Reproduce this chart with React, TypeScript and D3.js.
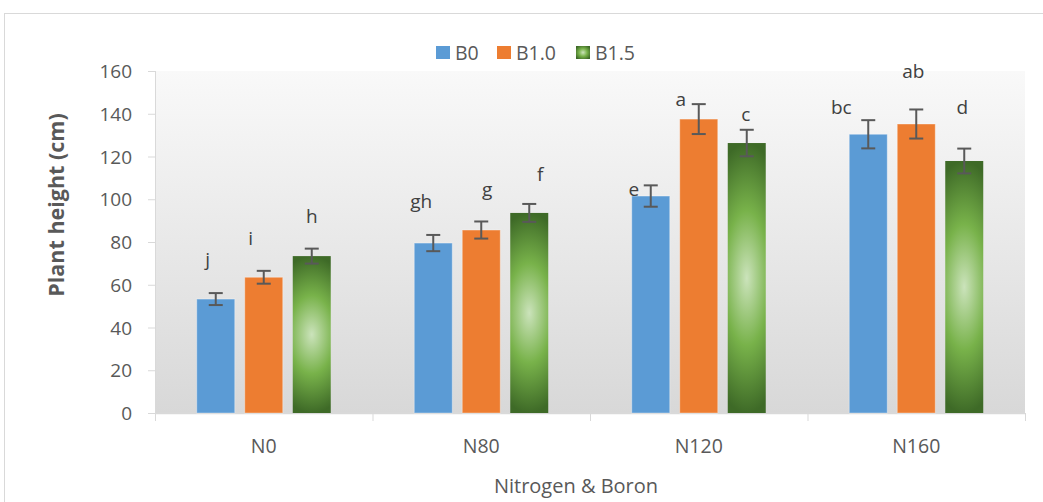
import React from "react";
import * as d3 from "d3";

const categories = ["N0", "N80", "N120", "N160"];
const seriesNames = ["B0", "B1.0", "B1.5"];
const b0Values = [53.3, 79.5, 101.5, 130.4];
const b10Values = [63.5, 85.6, 137.5, 135.2];
const b15Values = [73.4, 93.6, 126.3, 117.9];
const b0Errors = [2.8, 3.8, 5.0, 6.6];
const b10Errors = [3.0, 4.0, 7.0, 6.8];
const b15Errors = [3.5, 4.2, 6.2, 5.8];
const b0Letters = ["j", "gh", "e", "bc"];
const b10Letters = ["i", "g", "a", "ab"];
const b15Letters = ["h", "f", "c", "d"];
const yTicks = [0, 20, 40, 60, 80, 100, 120, 140, 160];

// label anchor (value units) and horizontal nudge for the significance letters
const letterY = [
  [72, 99, 105, 143],
  [82, 105, 147, 160],
  [92, 112, 140, 143],
];
const letterDx = [
  [-8, -12, -17, -27],
  [-13, 6, -18, -3],
  [0, 11, -1, -2],
];

const W = 1043;
const H = 502;
const plot = { left: 155, right: 1025, top: 71, bottom: 413 };
const font = "'Open Sans', 'Liberation Sans', sans-serif";
const colors = ["#5b9bd5", "#ed7d31", "url(#greenGrad)"];
const textColor = "#595959";

export default function App() {
  const values = [b0Values, b10Values, b15Values];
  const errors = [b0Errors, b10Errors, b15Errors];
  const letters = [b0Letters, b10Letters, b15Letters];

  const x = d3.scaleBand<string>().domain(categories).range([plot.left, plot.right]).paddingInner(0).paddingOuter(0);
  const y = d3.scaleLinear().domain([0, 160]).range([plot.bottom, plot.top]);
  const barW = 38;
  const gap = 10;
  const groupW = 3 * barW + 2 * gap;
  const barX = (ci: number, si: number) =>
    (x(categories[ci]) as number) + x.bandwidth() / 2 - groupW / 2 + si * (barW + gap);

  const boundaries = categories.map((c) => x(c) as number).concat([plot.right]);

  return (
    <svg width={W} height={H} style={{ position: "absolute", left: 0, top: 0, background: "#fff" }}>
      <defs>
        <linearGradient id="plotBg" x1="0" y1="0" x2="0" y2="1">
          <stop offset="0%" stopColor="#f9f9f9" />
          <stop offset="100%" stopColor="#d8d8d8" />
        </linearGradient>
        <radialGradient
          id="greenGrad"
          cx="0.5"
          cy="0.5"
          r="0.5"
          gradientTransform="translate(0.5,0.5) scale(2.4,1) translate(-0.5,-0.5)"
        >
          <stop offset="0%" stopColor="#cbe3bb" />
          <stop offset="50%" stopColor="#78b24a" />
          <stop offset="100%" stopColor="#3e6a27" />
        </radialGradient>
        <radialGradient id="greenLegend" cx="0.5" cy="0.5" r="0.6">
          <stop offset="0%" stopColor="#cbe3bb" />
          <stop offset="50%" stopColor="#78b24a" />
          <stop offset="100%" stopColor="#3e6a27" />
        </radialGradient>
      </defs>
      <rect x={4.5} y={13.5} width={W + 10} height={H + 10} fill="#fff" stroke="#d9d9d9" strokeWidth={1} />
      <rect
        x={plot.left}
        y={plot.top}
        width={plot.right - plot.left}
        height={plot.bottom - plot.top}
        fill="url(#plotBg)"
      />
      {/* y axis */}
      <line x1={plot.left + 0.5} x2={plot.left + 0.5} y1={plot.top} y2={plot.bottom} stroke="#d9d9d9" />
      {yTicks.map((t) => (
        <g key={t}>
          <line x1={plot.left - 7} x2={plot.left} y1={y(t) + 0.5} y2={y(t) + 0.5} stroke="#d9d9d9" />
          <text
            x={plot.left - 23}
            y={y(t)}
            textAnchor="end"
            dominantBaseline="central"
            fontFamily={font}
            fontSize={19}
            fill={textColor}
          >
            {t}
          </text>
        </g>
      ))}
      {/* x axis */}
      <line x1={plot.left} x2={plot.right} y1={plot.bottom + 0.5} y2={plot.bottom + 0.5} stroke="#d9d9d9" strokeWidth={1.5} />
      {boundaries.map((b, i) => (
        <line key={i} x1={b + 0.5} x2={b + 0.5} y1={plot.bottom} y2={plot.bottom + 8} stroke="#d9d9d9" />
      ))}
      {categories.map((c) => (
        <text
          key={c}
          x={(x(c) as number) + x.bandwidth() / 2}
          y={445}
          textAnchor="middle"
          dominantBaseline="central"
          fontFamily={font}
          fontSize={19.5}
          fill={textColor}
        >
          {c}
        </text>
      ))}
      {/* bars */}
      {values.map((vals, si) =>
        vals.map((v, ci) => (
          <rect
            key={`${si}-${ci}`}
            x={barX(ci, si)}
            y={y(v)}
            width={barW}
            height={y(0) - y(v)}
            fill={colors[si]}
            stroke={si === 2 ? "none" : "rgba(255,255,255,0.35)"}
            strokeWidth={1}
          />
        ))
      )}
      {/* error bars */}
      {values.map((vals, si) =>
        vals.map((v, ci) => {
          const cx = barX(ci, si) + barW / 2;
          const e = errors[si][ci];
          return (
            <g key={`e${si}-${ci}`} stroke="#595959" strokeWidth={2}>
              <line x1={cx} x2={cx} y1={y(v + e)} y2={y(v - e)} />
              <line x1={cx - 7} x2={cx + 7} y1={y(v + e)} y2={y(v + e)} />
              <line x1={cx - 7} x2={cx + 7} y1={y(v - e)} y2={y(v - e)} />
            </g>
          );
        })
      )}
      {/* letters */}
      {letters.map((ls, si) =>
        ls.map((l, ci) => (
          <text
            key={`l${si}-${ci}`}
            x={barX(ci, si) + barW / 2 + letterDx[si][ci]}
            y={y(letterY[si][ci])}
            textAnchor="middle"
            dominantBaseline="central"
            fontFamily={font}
            fontSize={19}
            fill="#404040"
          >
            {l}
          </text>
        ))
      )}
      {/* legend */}
      {seriesNames.map((s, i) => {
        const lx = [436, 497, 576][i];
        return (
          <g key={s}>
            <rect x={lx} y={46} width={14} height={13} fill={i === 2 ? "url(#greenLegend)" : colors[i]} />
            <text x={lx + 19} y={52} dominantBaseline="central" fontFamily={font} fontSize={19.5} fill={textColor}>
              {s}
            </text>
          </g>
        );
      })}
      {/* axis titles */}
      <text
        transform="translate(55,205) rotate(-90)"
        textAnchor="middle"
        dominantBaseline="central"
        fontFamily={font}
        fontSize={21.5}
        fontWeight="bold"
        fill={textColor}
      >
        Plant height (cm)
      </text>
      <text
        x={576}
        y={485}
        textAnchor="middle"
        dominantBaseline="central"
        fontFamily={font}
        fontSize={20}
        fill={textColor}
      >
        Nitrogen &amp; Boron
      </text>
    </svg>
  );
}
